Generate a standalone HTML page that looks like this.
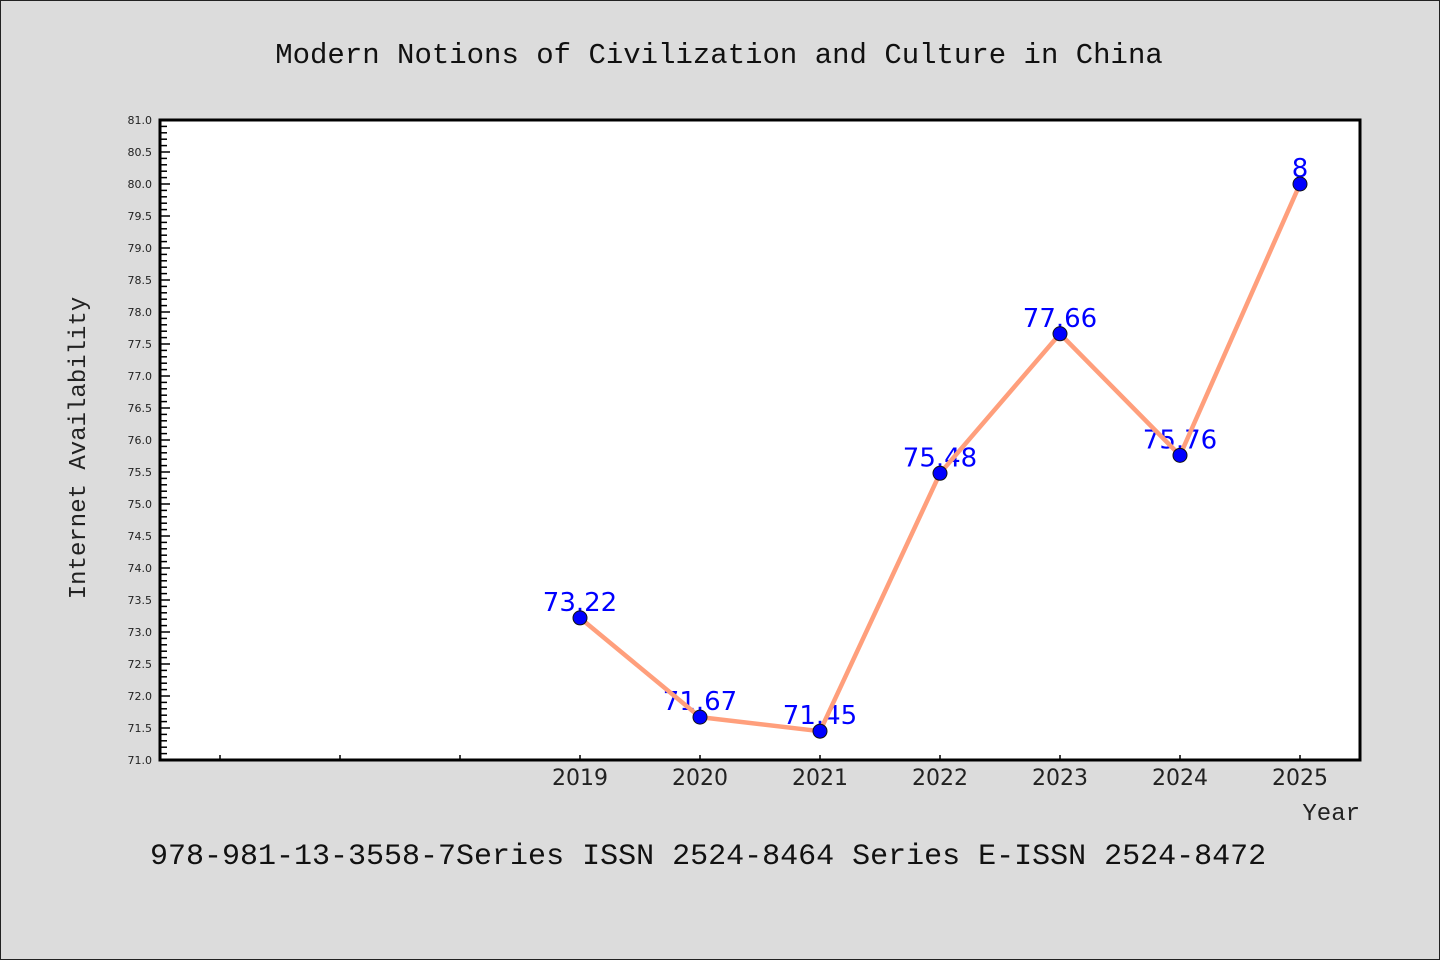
<!DOCTYPE html>
<html><head><meta charset="utf-8"><style>
html,body{margin:0;padding:0;background:#dcdcdc;}
svg{display:block;}
</style></head><body>
<svg id="chart" width="1440" height="960" xmlns="http://www.w3.org/2000/svg">
<rect x="0.5" y="0.5" width="1439" height="959" fill="#dcdcdc" stroke="#222" stroke-width="1"/>
<text x="719" y="63" text-anchor="middle" font-family="Liberation Mono, monospace" font-size="29" fill="#111">Modern Notions of Civilization and Culture in China</text>
<rect x="160" y="120" width="1200" height="640" fill="#fff"/>
<g id="yaxis"></g>
<g id="xaxis"></g>
<g id="labels"></g>
<g id="series"></g>
<path d="M160 120 H1360 V760 H160 Z" fill="none" stroke="#000" stroke-width="3"/>
<text transform="translate(85,448) rotate(-90)" text-anchor="middle" font-family="Liberation Mono, monospace" font-size="24" fill="#222">Internet Availability</text>
<text x="1360" y="820" text-anchor="end" font-family="Liberation Mono, monospace" font-size="24" fill="#222">Year</text>
<text x="150" y="864" font-family="Liberation Mono, monospace" font-size="30" fill="#111">978-981-13-3558-7Series ISSN 2524-8464 Series E-ISSN 2524-8472</text>
</svg>
<script>
const categories = ["", "", "", "2019", "2020", "2021", "2022", "2023", "2024", "2025"];
const values = [null, null, null, 73.22, 71.67, 71.45, 75.48, 77.66, 75.76, 80];
const valueLabels = ["", "", "", "73.22", "71.67", "71.45", "75.48", "77.66", "75.76", "8"];
const yTicks = ["71.0","71.5","72.0","72.5","73.0","73.5","74.0","74.5","75.0","75.5","76.0","76.5","77.0","77.5","78.0","78.5","79.0","79.5","80.0","80.5","81.0"];
const yMin = 71, yMax = 81;
const L=160,R=1360,T=120,B=760;
const NS="http://www.w3.org/2000/svg";
function y(v){return B-(v-yMin)/(yMax-yMin)*(B-T);}
function x(i){return L+(R-L)/categories.length*(i+0.5);}
function mk(tag,attrs,parent){const e=document.createElementNS(NS,tag);for(const k in attrs)e.setAttribute(k,attrs[k]);parent.appendChild(e);return e;}
const ya=document.getElementById('yaxis'),xa=document.getElementById('xaxis'),lg=document.getElementById('labels'),sg=document.getElementById('series');
// minor ticks
for(let k=0;k<=Math.round((yMax-yMin)*10);k++){
  const v=yMin+k/10; const major=k%5===0;
  const t=mk('line',{x1:L,x2:L+(major?10:7),y1:y(v),y2:y(v),stroke:'#000','stroke-width':1.5},ya);
  
  
}
yTicks.forEach(s=>{
  const t=mk('text',{x:L-8,y:y(parseFloat(s))+4,'text-anchor':'end','font-family':'DejaVu Sans, sans-serif','font-size':11,fill:'#222'},ya);
  
  
  t.textContent=s;
});
categories.forEach((c,i)=>{
  const t=mk('line',{x1:x(i),x2:x(i),y1:B,y2:B-5,stroke:'#000','stroke-width':1.5},xa);
  
  
  if(c){
    const l=mk('text',{x:x(i),y:B+25,'text-anchor':'middle','font-family':'DejaVu Sans, sans-serif','font-size':22,fill:'#222'},xa);
    
    
    l.textContent=c;
  }
});
let d='';
values.forEach((v,i)=>{
  if(v===null)return;
  d+=(d?'L':'M')+x(i)+' '+y(v)+' ';
  const t=mk('text',{x:x(i),y:y(v)-7,'text-anchor':'middle','font-family':'DejaVu Sans, sans-serif','font-size':26,fill:'#0000ff'},lg);
  
  
  t.textContent=valueLabels[i];
});
const p=mk('path',{d:d,fill:'none',stroke:'#ff9f7c','stroke-width':4.5,'stroke-linejoin':'round'},sg);


values.forEach((v,i)=>{
  if(v===null)return;
  const c=mk('circle',{cx:x(i),cy:y(v),r:7,fill:'#0000ff',stroke:'#111','stroke-width':1},sg);
  
  
});
</script>
</body></html>
